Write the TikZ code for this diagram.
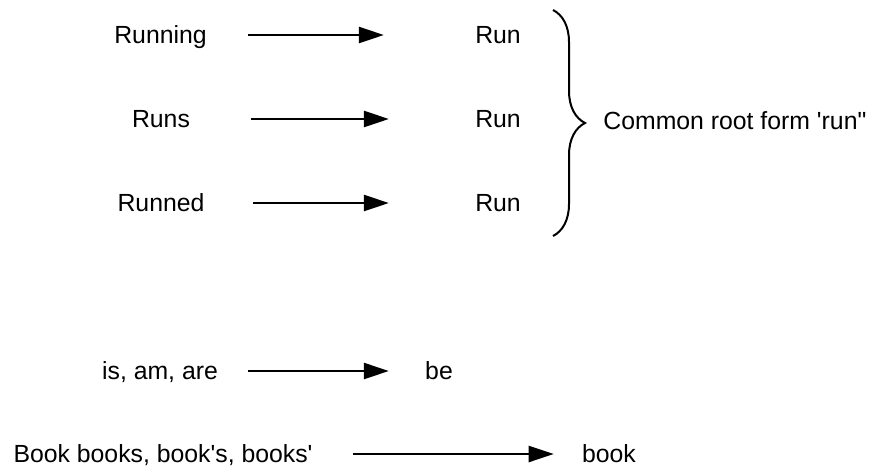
\documentclass[tikz,border=0pt]{standalone}
\usepackage{fontspec}
\setmainfont{Liberation Sans}[Ligatures=TeXOff]
\usetikzlibrary{arrows.meta,decorations.pathreplacing}

\begin{document}
\begin{tikzpicture}[x=0.5pt,y=-0.5pt,
    every node/.style={font=\fontsize{12.4}{15}\selectfont,inner sep=0pt,text height=10pt,text depth=2pt},
    arr/.style={-{Triangle[length=12.5pt,width=8pt]},line width=1.2pt}]
  \useasboundingbox (0,0) rectangle (871,467);

  % word forms and their stems
  \node (running) at (160.5,35) {Running};
  \node (run1) at (498,35) {Run};
  \node (runs) at (161,119) {Runs};
  \node (run2) at (498,119) {Run};
  \node (runned) at (161,203) {Runned};
  \node (run3) at (498,203) {Run};
  \node (isam) at (160,371) {is, am, are};
  \node (be) at (439,371) {be};
  \node (books) at (163,454) {Book books, book's, books'};
  \node (book) at (609,454) {book};

  \draw[arr,shorten <=20.5pt,shorten >=45.5pt] (running)--(run1);
  \draw[arr,shorten <=30.5pt,shorten >=43pt] (runs)--(run2);
  \draw[arr,shorten <=24pt,shorten >=43pt] (runned)--(run3);
  \draw[arr,shorten <=15pt,shorten >=18pt] (isam)--(be);
  \draw[arr,shorten <=20pt,shorten >=14pt] (books)--(book);

  % brace over the three Run rows
  \coordinate (brtop) at (553,10);
  \coordinate (brbot) at (553,236);
  \draw[line width=1pt,decorate,decoration={brace,amplitude=16pt}] (brtop)--(brbot);
  \node[anchor=west] (root) at (603,121) {Common root form 'run"};
\end{tikzpicture}
\end{document}
